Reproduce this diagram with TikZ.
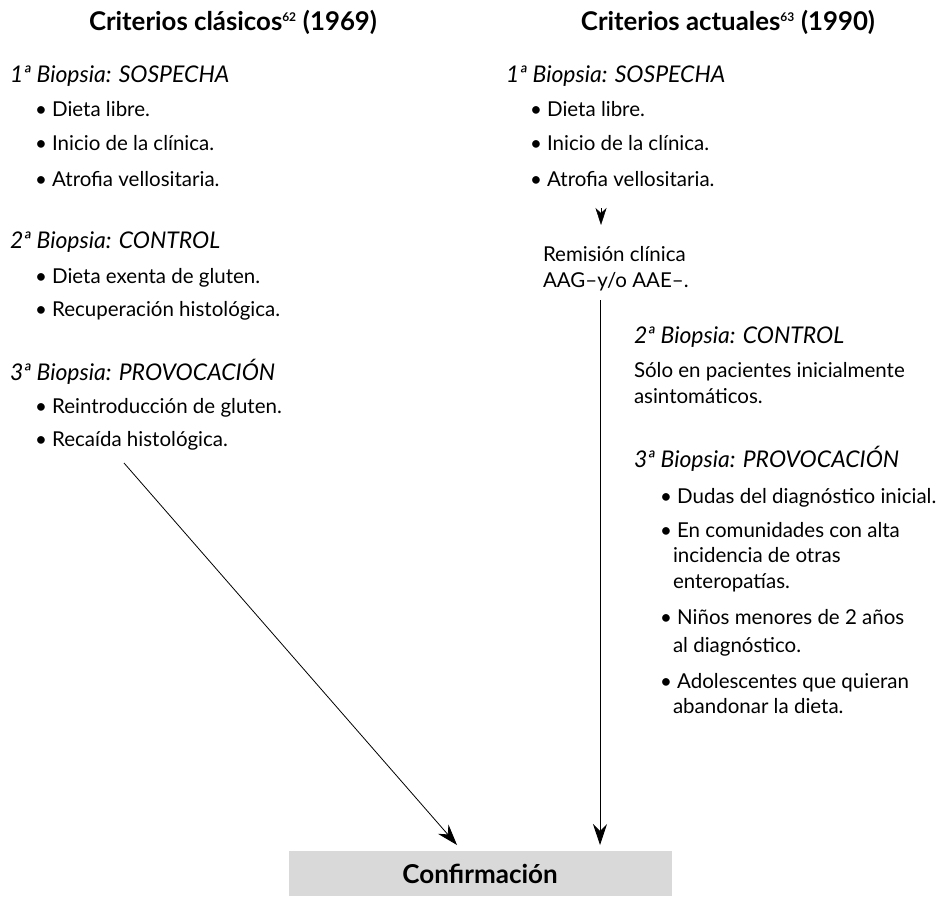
\documentclass[tikz,border=0pt]{standalone}
\usepackage{fontspec}
\setmainfont{Lato}
\usetikzlibrary{arrows.meta}
\begin{document}
\begin{tikzpicture}[x=1pt,y=-1pt,
  every node/.style={inner sep=0pt,outer sep=0pt},
  txt/.style={anchor=base west,font=\fontsize{20.5}{24}\selectfont},
  head/.style={anchor=base west,font=\fontsize{23}{27}\selectfont\itshape},
  ttl/.style={anchor=base,font=\fontsize{25.8}{30}\selectfont\bfseries},
  arr/.style={-{Stealth[length=21pt,width=14pt,inset=7pt]},line width=0.8pt}]
\useasboundingbox (0,0) rectangle (936,896);
% titles
\node[ttl] (t1) at (233,31) {Criterios clásicos\textsuperscript{\fontsize{12}{12}\selectfont 62} (1969)};
\node[ttl] (t2) at (728,31) {Criterios actuales\textsuperscript{\fontsize{12}{12}\selectfont 63} (1990)};
% left column
\node[head] (l1) at (10,83) {1ª Biopsia: SOSPECHA};
\node[txt] (l1a) at (35,117) {• Dieta libre.};
\node[txt] (l1b) at (35,151) {• Inicio de la clínica.};
\node[txt] (l1c) at (35,186) {• Atrofia vellositaria.};
\node[head] (l2) at (10,248) {2ª Biopsia: CONTROL};
\node[txt] (l2a) at (35,283) {• Dieta exenta de gluten.};
\node[txt] (l2b) at (35,316) {• Recuperación histológica.};
\node[head] (l3) at (10,380) {3ª Biopsia: PROVOCACIÓN};
\node[txt] (l3a) at (35,413) {• Reintroducción de gluten.};
\node[txt] (l3b) at (35,446) {• Recaída histológica.};
% right column
\node[head] (r1) at (506,83) {1ª Biopsia: SOSPECHA};
\node[txt] (r1a) at (530,117) {• Dieta libre.};
\node[txt] (r1b) at (530,151) {• Inicio de la clínica.};
\node[txt] (r1c) at (530,186) {• Atrofia vellositaria.};
\coordinate (sa) at (601,208);
\coordinate (sb) at (601,225);
\draw[-{Stealth[length=17pt,width=11pt,inset=5pt]},line width=0.5pt] (sa) -- (sb);
\node[txt] (rem1) at (543,261) {Remisión clínica};
\node[txt] (rem2) at (543,287) {AAG–y/o AAE–.};
\node[head] (r2) at (634,343) {2ª Biopsia: CONTROL};
\node[txt] (r2a) at (634,377) {Sólo en pacientes inicialmente};
\node[txt] (r2b) at (634,403) {asintomáticos.};
\node[head] (r3) at (634,467) {3ª Biopsia: PROVOCACIÓN};
\node[txt] (r3a) at (660,503) {• Dudas del diagnóstico inicial.};
\node[txt] (r3b) at (660,537) {• En comunidades con alta};
\node[txt] (r3c) at (673,562) {incidencia de otras};
\node[txt] (r3d) at (673,588) {enteropatías.};
\node[txt] (r3e) at (660,624) {• Niños menores de 2 años};
\node[txt] (r3f) at (673,652) {al diagnóstico.};
\node[txt] (r3g) at (660,688) {• Adolescentes que quieran};
\node[txt] (r3h) at (673,713) {abandonar la dieta.};
% confirmation box
\node[fill=black!15,minimum width=383pt,minimum height=45pt,anchor=north west] (conf) at (289,851) {};
\node[anchor=base,font=\fontsize{26}{30}\selectfont\bfseries] (conft) at (480,883) {Confirmación};
% arrows
\coordinate (la) at (124,463);
\coordinate (lb) at (457,845);
\coordinate (ra) at (600,300);
\coordinate (rb) at (600,845);
\draw[arr] (la) -- (lb);
\draw[arr] (ra) -- (rb);
\end{tikzpicture}
\end{document}
